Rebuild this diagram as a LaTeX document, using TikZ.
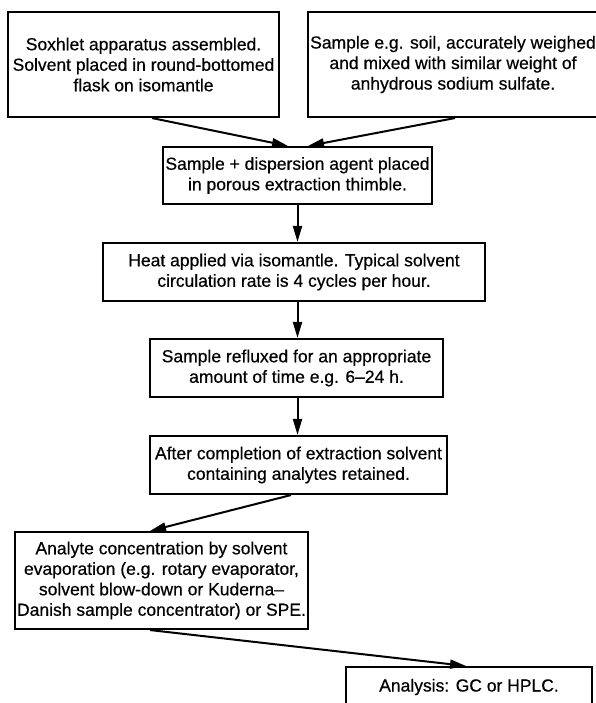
\documentclass[tikz,border=0pt]{standalone}
\usepackage{fontspec}
\setmainfont{Liberation Sans}
\newfontfamily\diagfont[BoldFont={Liberation Sans},BoldFeatures={FakeBold=0.5}]{Liberation Sans}
\usetikzlibrary{arrows.meta,calc}
\begin{document}
\begin{tikzpicture}[x=1pt,y=-1pt,
  box/.style={draw,line width=2.1pt,rectangle,inner sep=0pt,align=center,
    font=\diagfont\bfseries\fontsize{17.5pt}{20.5pt}\selectfont},
  arr/.style={line width=2pt,-{Triangle[length=16pt,width=9pt]}}]
\useasboundingbox (0,0) rectangle (596,703);
\clip (0,0) rectangle (596,703);
\fill[white] (0,0) rectangle (596,703);
\node[box,minimum width=271pt,minimum height=105pt] (b1) at (143.5,64.5)
  {Soxhlet apparatus assembled.\\Solvent placed in round-bottomed\\flask on isomantle};
\node[box,minimum width=290pt,minimum height=105pt] (b2) at (453,64.5)
  {Sample e.g. soil, accurately weighed\\and mixed with similar weight of\\anhydrous sodium sulfate.};
\node[box,minimum width=269pt,minimum height=57pt] (b3) at (297.5,175.5)
  {Sample + dispersion agent placed\\in porous extraction thimble.};
\node[box,minimum width=382pt,minimum height=58pt] (b4) at (294,272)
  {Heat applied via isomantle. Typical solvent\\circulation rate is 4 cycles per hour.};
\node[box,minimum width=293pt,minimum height=58pt] (b5) at (296.5,368)
  {Sample refluxed for an appropriate\\amount of time e.g. 6–24 h.};
\node[box,minimum width=297pt,minimum height=58pt] (b6) at (298.5,465)
  {After completion of extraction solvent\\containing analytes retained.};
\node[box,minimum width=293pt,minimum height=97pt] (b7) at (161.5,580.5)
  {Analyte concentration by solvent\\evaporation (e.g. rotary evaporator,\\solvent blow-down or Kuderna–\\Danish sample concentrator) or SPE.};
\node[box,minimum width=246pt,minimum height=40pt] (b8) at (469,687)
  {Analysis: GC or HPLC.};
\draw[arr] ([xshift=8.5pt]b1.south) -- ([xshift=-9.5pt]b3.north);
\draw[arr] ([xshift=2pt]b2.south) -- ([xshift=10.5pt]b3.north);
\draw[arr] (b3.south) -- (b3.south |- b4.north);
\draw[arr] (b4.south -| b3.south) -- (b3.south |- b5.north);
\draw[arr] (b5.south -| b3.south) -- (b3.south |- b6.north);
\draw[arr] ([xshift=-7.5pt]b6.south) -- ([xshift=-11.5pt]b7.north);
\draw[arr] ([xshift=-11.5pt]b7.south) -- ([xshift=-3pt]b8.north);
\end{tikzpicture}
\end{document}
